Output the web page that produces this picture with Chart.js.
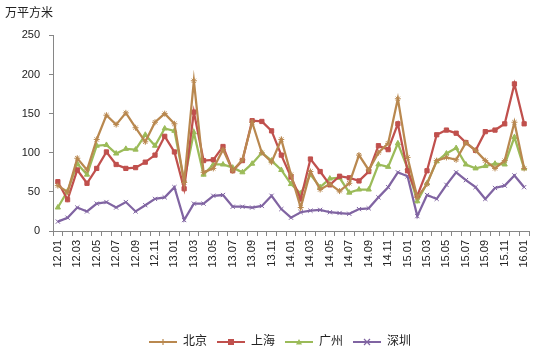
<!DOCTYPE html>
<html>
<head>
<meta charset="utf-8">
<script src="https://cdn.jsdelivr.net/npm/chart.js@4/dist/chart.umd.min.js"></script>
<style>
  html, body { margin: 0; padding: 0; background: #ffffff; }
  #wrap { width: 545px; height: 364px; }
</style>
</head>
<body>
<div id="wrap"><canvas id="c" width="545" height="364"></canvas></div>
<script>
const categories = [
  '12.01','12.02','12.03','12.04','12.05','12.06','12.07','12.08','12.09','12.10','12.11','12.12',
  '13.01','13.02','13.03','13.04','13.05','13.06','13.07','13.08','13.09','13.10','13.11','13.12',
  '14.01','14.02','14.03','14.04','14.05','14.06','14.07','14.08','14.09','14.10','14.11','14.12',
  '15.01','15.02','15.03','15.04','15.05','15.06','15.07','15.08','15.09','15.10','15.11','15.12',
  '16.01'
];
const beijing = [58,50,93,78,117,148,136,151,132,114,139,150,
  137,62,192,75,80,104,77,91,139,100,88,117,
  72,30,76,53,60,51,61,97,78,100,112,169,
  94,43,60,90,94,91,113,103,90,80,90,139,
  80];
const shanghai = [63,40,78,61,80,101,85,80,81,88,97,121,
  101,54,152,90,91,108,77,90,141,140,128,97,
  69,41,92,76,59,70,68,64,76,109,104,137,
  77,45,77,123,129,125,113,103,127,129,137,188,
  137];
const guangzhou = [30,51,86,72,109,110,99,105,104,123,109,131,
  128,64,126,72,85,85,81,75,86,100,90,78,
  60,48,72,56,67,68,49,53,53,85,82,112,
  80,38,61,89,99,106,85,80,83,86,85,120,
  80];
const shenzhen = [12,17,30,25,35,37,30,37,25,33,41,43,
  56,14,35,35,45,46,31,31,30,32,45,28,
  17,24,26,27,24,23,22,28,29,43,56,75,
  70,19,46,41,59,75,65,56,41,55,58,71,
  56];
const seriesNames = ['北京','上海','广州','深圳'];
const yTicks = [0,50,100,150,200,250];
const unitLabel = '万平方米';

const colors = ['#B9884F','#C0504D','#9BBB59','#8064A2'];
const styles = ['star','rect','triangle','crossRot'];
const seriesData = [beijing, shanghai, guangzhou, shenzhen];

function legendImg(color, style) {
  const cv = document.createElement('canvas');
  cv.width = 28; cv.height = 10;
  const g = cv.getContext('2d');
  g.strokeStyle = color; g.fillStyle = color; g.lineWidth = 2;
  g.beginPath(); g.moveTo(0,5); g.lineTo(28,5); g.stroke();
  g.lineWidth = 1.2;
  const cx = 14, cy = 5;
  if (style === 'rect') { g.fillRect(cx-3, cy-3, 6, 6); }
  else if (style === 'triangle') { g.beginPath(); g.moveTo(cx, cy-3); g.lineTo(cx+3, cy+2.5); g.lineTo(cx-3, cy+2.5); g.closePath(); g.fill(); }
  else if (style === 'crossRot') { g.beginPath(); g.moveTo(cx-3,cy-3); g.lineTo(cx+3,cy+3); g.moveTo(cx+3,cy-3); g.lineTo(cx-3,cy+3); g.stroke(); }
  else { g.beginPath(); g.moveTo(cx,cy-3); g.lineTo(cx,cy+3); g.moveTo(cx-3,cy); g.lineTo(cx+3,cy); g.stroke(); }
  return cv;
}
const legendImgs = colors.map((c,i) => legendImg(c, styles[i]));

const FONT = '"Liberation Sans", "Noto Sans CJK SC", sans-serif';

const legendShift = {
  id: 'legendShift',
  afterLayout(chart) {
    if (chart.legend) { chart.legend.left += 13; chart.legend.right += 13; }
  }
};

new Chart(document.getElementById('c'), {
  type: 'line',
  plugins: [legendShift],
  data: {
    labels: categories,
    datasets: seriesData.map((d,i) => ({
      label: seriesNames[i],
      data: d,
      borderColor: colors[i],
      backgroundColor: colors[i],
      borderWidth: 2.25,
      pointStyle: styles[i],
      pointRadius: 3,
      pointBorderWidth: 1,
      pointBorderColor: colors[i],
      pointBackgroundColor: colors[i],
      tension: 0,
      fill: false
    }))
  },
  options: {
    responsive: false,
    animation: false,
    devicePixelRatio: 1,
    layout: { padding: { left: 5, right: 16, top: 0, bottom: 6 } },
    plugins: {
      tooltip: { enabled: false },
      title: {
        display: true,
        text: unitLabel,
        align: 'start',
        color: '#222',
        font: { family: FONT, size: 12, weight: 'normal' },
        padding: { top: 6, bottom: 15 }
      },
      legend: {
        position: 'bottom',
        labels: {
          usePointStyle: true,
          pointStyleWidth: 28,
          color: '#222',
          padding: 10,
          font: { family: FONT, size: 12 },
          generateLabels(chart) {
            const items = Chart.defaults.plugins.legend.labels.generateLabels(chart);
            items.forEach((it, i) => { it.pointStyle = legendImgs[i]; });
            return items;
          }
        }
      }
    },
    scales: {
      x: {
        type: 'category',
        offset: true,
        grid: { offset: true, drawOnChartArea: false, drawTicks: true, tickLength: 5, color: '#868686' },
        border: { display: true, color: '#868686', width: 1 },
        ticks: {
          autoSkip: false,
          minRotation: 90,
          maxRotation: 90,
          padding: 4,
          color: '#222',
          font: { family: FONT, size: 11 },
          callback(v, idx) { return idx % 2 === 0 ? categories[idx] : ''; }
        },
        afterFit(scale) { scale.height = 95; }
      },
      y: {
        min: 0,
        max: 250,
        afterBuildTicks(scale) { scale.ticks = yTicks.map(v => ({ value: v })); },
        grid: { drawOnChartArea: false, drawTicks: true, tickLength: 4, color: '#868686' },
        border: { display: true, color: '#868686', width: 1 },
        ticks: {
          padding: 9,
          color: '#222',
          font: { family: FONT, size: 11 }
        },
        afterFit(scale) { scale.width = 48; }
      }
    }
  }
});
</script>
</body>
</html>
